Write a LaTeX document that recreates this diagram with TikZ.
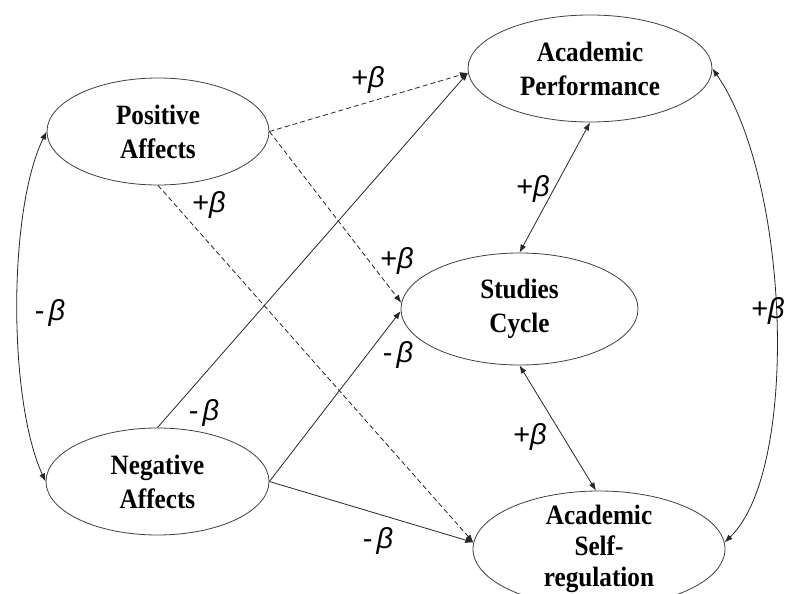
\documentclass[tikz,border=0pt]{standalone}
\usepackage{fontspec}
\setmainfont{Liberation Serif}
\newfontfamily\nodefont[FakeStretch=0.9]{Liberation Serif}
\newfontfamily\labfont{Liberation Sans}
\usetikzlibrary{shapes.geometric,arrows.meta}
\begin{document}
\begin{tikzpicture}[x=1pt,y=-1pt,
  ell/.style={draw=black!75, line width=0.8pt, ellipse, inner sep=-30pt, align=center,
    font=\nodefont\fontsize{28}{34}\selectfont\bfseries},
  conn/.style={draw=black!85, line width=0.8pt, -{Latex[length=8pt,width=6pt]}},
  biconn/.style={draw=black!85, line width=0.8pt, {Latex[length=8pt,width=6pt]}-{Latex[length=8pt,width=6pt]}},
  dsh/.style={conn, dash pattern=on 5pt off 3pt},
  lab/.style={font=\labfont\fontsize{29}{29}\selectfont, inner sep=0pt}]
\fill[white] (0,0) rectangle (785,594);
\useasboundingbox (0,0) rectangle (785,594);

\node[ell, minimum width=222pt, minimum height=107pt] (PA) at (158,131.5) {Positive\\Affects};
\node[ell, minimum width=244pt, minimum height=107pt] (AP) at (590,68.5) {Academic\\Performance};
\node[ell, minimum width=237pt, minimum height=112pt] (SC) at (519.5,309) {Studies\\Cycle};
\node[ell, minimum width=223pt, minimum height=107pt] (NA) at (157.5,481.5) {Negative\\Affects};
\node[ell, minimum width=252pt, minimum height=116pt,
  font=\nodefont\fontsize{28}{31}\selectfont\bfseries] (ASR) at (599,549) {Academic\\Self-\\regulation};

% curved double arrows
\draw[biconn] (PA.west) .. controls (8,210) and (8,400) .. (NA.west);
\draw[biconn] (AP.east) .. controls (790,180) and (800,470) .. (ASR.3);

% dashed paths from Positive Affects
\draw[dsh] (PA.east) -- (AP.182);
\draw[dsh] (PA.east) -- (SC.177);
\draw[dsh] (PA.south) -- (ASR.177);

% solid paths from Negative Affects
\draw[conn] (NA.north) -- (AP.182);
\draw[conn] (NA.east) -- (SC.181);
\draw[conn] (NA.east) -- (ASR.177);

% double arrows with Studies Cycle
\draw[biconn] (SC.north) -- (AP.south);
\draw[biconn] (SC.south) -- (ASR.93);

% labels
\node[lab] (l1) at (368,80) {+\textit{β}};
\node[lab] (l2) at (209,205) {+\textit{β}};
\node[lab] (l3) at (397,261) {+\textit{β}};
\node[lab] (l4) at (533,189) {+\textit{β}};
\node[lab] (l5) at (768,311) {+\textit{β}};
\node[lab] (l6) at (50,313) {-\hspace{4pt}\textit{β}};
\node[lab] (l7) at (398,355) {-\hspace{4pt}\textit{β}};
\node[lab] (l8) at (204,413) {-\hspace{4pt}\textit{β}};
\node[lab] (l9) at (530,437) {+\textit{β}};
\node[lab] (l10) at (378,541) {-\hspace{4pt}\textit{β}};
\end{tikzpicture}
\end{document}
